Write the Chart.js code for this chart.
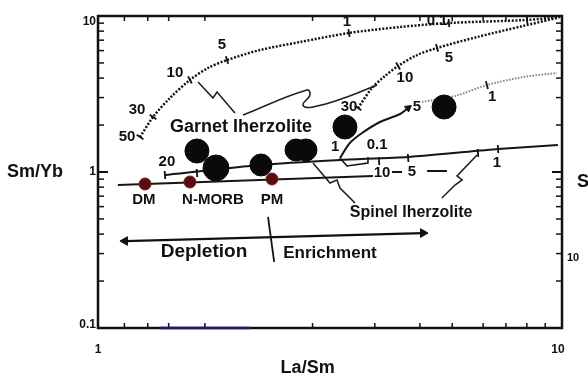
<!DOCTYPE html>
<html>
<head>
<meta charset="utf-8">
<script src="https://cdn.jsdelivr.net/npm/chart.js@4/dist/chart.umd.min.js"></script>
<style>
  html, body { margin: 0; padding: 0; background: #fff; }
</style>
</head>
<body>
<canvas id="chart" width="588" height="376"></canvas>
<script>
// La/Sm vs Sm/Yb, log-log. Pairs are [La/Sm, Sm/Yb].
const garnetMelt = [
  [1.232, 1.676], [1.314, 2.252], [1.429, 2.98], [1.578, 3.89], [1.726, 4.64],
  [1.897, 5.22], [2.234, 6.05], [2.725, 6.81], [3.475, 7.78], [4.477, 8.50],
  [5.705, 9.02], [8.41, 9.43], [9.90, 9.85]
];
const garnetMelt2 = [
  [3.634, 2.572], [3.895, 3.456], [4.155, 4.125], [4.433, 4.78], [4.87, 5.62],
  [5.38, 6.24], [6.56, 7.33], [8.24, 8.63], [9.75, 9.71]
];
const mixedMelt = [[4.99, 2.81], [5.88, 3.07], [6.89, 3.61], [8.24, 4.06], [9.75, 4.31]];
const mixCurve = [[3.323, 1.229], [3.49, 1.534], [3.707, 1.778], [4.053, 2.092], [4.477, 2.354], [4.66, 2.572]];
const spinelMelt = [[1.394, 0.957], [2.234, 1.109], [3.323, 1.194], [4.66, 1.248], [7.28, 1.404], [9.80, 1.49]];
const mantleArray = [[1.104, 0.825], [3.914, 0.943]];
const mantleDashA = [[4.30, 1.0], [4.52, 1.0]];
const mantleDashB = [[5.12, 1.015], [5.65, 1.015]];
const junctionBox = [[3.323, 1.229], [3.44, 1.093], [3.818, 1.142], [3.818, 1.248]];

// melt fraction ticks along the curves
const garnetTicks = [[1.232, 1.676], [1.314, 2.252], [1.578, 3.89], [1.897, 5.22], [3.475, 7.78], [5.705, 9.02], [8.41, 9.43]];
const garnet2Ticks = [[3.634, 2.572], [4.433, 4.78], [5.38, 6.24]];
const mixedTicks = [[6.89, 3.61]];
const spinelTicks = [[1.394, 0.957], [1.634, 0.985], [4.033, 1.176], [4.66, 1.229], [6.59, 1.324], [7.28, 1.404]];

// mantle reservoirs and samples
const reservoirNames = ['DM', 'N-MORB', 'PM'];
const reservoirs = [[1.263, 0.838], [1.578, 0.863], [2.371, 0.902]];
const reservoirLabelX = [1.256, 1.769, 2.371];
const samples = [[1.634, 1.363], [1.796, 1.061], [2.245, 1.109], [2.672, 1.384], [2.807, 1.384], [3.406, 1.943], [5.57, 2.61]];

// leader lines and the depletion / enrichment arrow
const garnetLeaderA = [[1.643, 3.776], [1.769, 2.98], [1.805, 3.257], [1.973, 2.39]];
const garnetLeaderB = [[2.054, 2.32], [2.82, 3.355], [2.863, 3.117], [2.765, 2.689], [2.906, 2.61], [3.44, 3.026], [3.994, 3.613]];
const spinelLeaderA = [[2.906, 1.142], [3.162, 0.85], [3.274, 0.889], [3.323, 0.79], [3.58, 0.633]];
const spinelLeaderB = [[6.56, 1.285], [5.94, 0.943], [6.09, 0.889], [5.88, 0.825], [5.51, 0.681]];
const trendArrow = [[1.143, 0.361], [5.017, 0.406]];
const divider = [[2.325, 0.515], [2.397, 0.265]];
const baseSegment = [[1.36, 0.1], [2.127, 0.1]];

// melt fraction labels
const curveLabels = [
  ['50', 1.155, 1.676], ['30', 1.214, 2.497], ['10', 1.465, 4.31], ['5', 1.85, 6.52], ['20', 1.408, 1.159],
  ['1', 3.44, 9.15], ['0.1', 5.38, 9.30], ['5', 5.705, 5.38], ['10', 4.587, 4.005], ['30', 3.475, 2.61],
  ['5', 4.87, 2.61], ['1', 7.07, 3.026], ['1', 3.244, 1.446], ['0.1', 3.994, 1.49], ['10', 4.094, 0.985],
  ['5', 4.75, 1.0], ['1', 7.24, 1.142]
];

// axes
const xTickValues = [1, 10];
const xTickLabels = ['1', '10'];
const yTickValues = [0.1, 1, 10];
const yTickLabels = ['0.1', '1', '10'];
const xMinorTicks = [1.14, 1.28, 1.42, 1.7, 2.9, 3.95, 4.94, 5.8, 6.76, 7.57, 8.4, 9.2];
const yMinorTicks = [0.2, 0.3, 0.4, 0.5, 0.6, 0.7, 0.8, 0.9, 2, 3, 4, 5, 6, 7, 8, 9];

const FONT = "'Liberation Sans', Arial, sans-serif";
const pts = arr => arr.map(([x, y]) => ({ x, y }));

function curve(data, color, width, dash, tension) {
  return {
    data: pts(data), showLine: true, borderColor: color, borderWidth: width,
    borderDash: dash || [], pointRadius: 0, tension: tension || 0, clip: false
  };
}

function tickMarks(data, rotation) {
  return {
    data: pts(data), showLine: false, pointStyle: 'line', pointRadius: 4,
    pointRotation: rotation, borderColor: '#111', borderWidth: 1.8, clip: false
  };
}

// frame and inward ticks go under the data, text goes on top
const frame = {
  id: 'frame',
  beforeDatasetsDraw(chart) {
    const { ctx, chartArea: a, scales: { x, y } } = chart;
    ctx.save();
    ctx.strokeStyle = '#111';
    ctx.lineWidth = 1.5;
    const seg = (x1, y1, x2, y2) => { ctx.beginPath(); ctx.moveTo(x1, y1); ctx.lineTo(x2, y2); ctx.stroke(); };
    xMinorTicks.forEach(v => {
      const px = x.getPixelForValue(v);
      seg(px, a.bottom, px, a.bottom - 5);
      seg(px, a.top, px, a.top + 5);
    });
    yMinorTicks.forEach(v => {
      const py = y.getPixelForValue(v);
      seg(a.left, py, a.left + 6, py);
      seg(a.right, py, a.right - 6, py);
    });
    ctx.lineWidth = 2;
    const one = y.getPixelForValue(1);
    seg(a.left, one, a.left + 10, one);
    seg(a.right, one, a.right - 10, one);

    ctx.lineWidth = 2.5;
    ctx.strokeRect(a.left, a.top, a.right - a.left, a.bottom - a.top);
    ctx.restore();
  },
  afterDraw(chart) {
    const { ctx, chartArea: a, scales: { x, y } } = chart;
    ctx.save();
    ctx.fillStyle = '#111';
    ctx.textBaseline = 'middle';

    // axis numbers
    ctx.font = 'bold 12px ' + FONT;
    ctx.textAlign = 'right';
    yTickValues.forEach((v, i) => {
      const py = Math.min(Math.max(y.getPixelForValue(v), a.top + 6), a.bottom - 3);
      ctx.fillText(yTickLabels[i], a.left - 2, py);
    });
    ctx.textAlign = 'center';
    xTickValues.forEach((v, i) => {
      ctx.fillText(xTickLabels[i], x.getPixelForValue(v) - (i ? 4 : 0), a.bottom + 22);
    });

    // axis titles
    ctx.font = 'bold 18px ' + FONT;
    ctx.fillText('Sm/Yb', 35, y.getPixelForValue(1));
    ctx.fillText('La/Sm', x.getPixelForValue(2.83), a.bottom + 40);

    // neighbouring panel edge
    ctx.textAlign = 'left';
    ctx.fillText('S', a.right + 15, y.getPixelForValue(0.863));
    ctx.font = 'bold 11px ' + FONT;
    ctx.fillText('10', a.right + 5, y.getPixelForValue(0.281));

    // curve labels
    ctx.textAlign = 'center';
    ctx.font = 'bold 15px ' + FONT;
    curveLabels.forEach(([t, vx, vy]) => ctx.fillText(t, x.getPixelForValue(vx), y.getPixelForValue(vy)));
    reservoirNames.forEach((t, i) => ctx.fillText(t, x.getPixelForValue(reservoirLabelX[i]), y.getPixelForValue(0.661)));

    const put = (t, vx, vy, font) => {
      ctx.font = font;
      ctx.fillText(t, x.getPixelForValue(vx), y.getPixelForValue(vy));
    };
    put('Garnet Iherzolite', 2.034, 1.943, 'bold 18px ' + FONT);
    put('Spinel Iherzolite', 4.73, 0.546, 'bold 16px ' + FONT);
    put('Depletion', 1.692, 0.307, 'bold 19px ' + FONT);
    put('Enrichment', 3.162, 0.3026, 'bold 17px ' + FONT);
    ctx.restore();
  }
};

new Chart(document.getElementById('chart'), {
  type: 'scatter',
  data: {
    datasets: [
      {
        data: pts(samples), pointRadius: [12, 13, 11, 11, 11, 12, 12],
        backgroundColor: '#0a0a0a', borderColor: '#0a0a0a', clip: false
      },
      {
        data: pts(reservoirs), pointRadius: 6,
        backgroundColor: '#5a0c10', borderColor: '#7a1a1e', borderWidth: 1, clip: false
      },
      {
        data: pts([trendArrow[0], trendArrow[1]]), pointStyle: 'triangle',
        pointRotation: [-90, 90], pointRadius: 5, backgroundColor: '#111', borderColor: '#111', clip: false
      },
      {
        data: pts([mixCurve[mixCurve.length - 1]]), pointStyle: 'triangle',
        pointRotation: 53, pointRadius: 4, backgroundColor: '#111', borderColor: '#111', clip: false
      },
      tickMarks(garnetTicks, [33, 33, 62, 73, 81, 85, 85]),
      tickMarks(garnet2Ticks, [35, 59, 75]),
      tickMarks(mixedTicks, [76]),
      tickMarks(spinelTicks, 86),
      curve(garnetMelt, '#151515', 2.5, [2, 1.6], 0.3),
      curve(garnetMelt2, '#151515', 2.5, [2, 1.6], 0.3),
      curve(mixedMelt, '#8a8a8a', 2, [1.6, 1.4], 0.3),
      curve(mixCurve, '#151515', 2, null, 0.3),
      curve(spinelMelt, '#151515', 2, null, 0.2),
      curve(mantleArray, '#151515', 2),
      curve(mantleDashA, '#151515', 2),
      curve(mantleDashB, '#151515', 2),
      curve(junctionBox, '#151515', 1.6),
      curve(garnetLeaderA, '#222', 1.6),
      curve(garnetLeaderB, '#222', 1.6, null, 0.45),
      curve(spinelLeaderA, '#222', 1.6),
      curve(spinelLeaderB, '#222', 1.6),
      curve(trendArrow, '#111', 2.2),
      curve(divider, '#111', 1.8),
      curve(baseSegment, '#1c1c6c', 2.5)
    ]
  },
  options: {
    responsive: false,
    animation: false,
    layout: { padding: { left: 98, right: 26, top: 16, bottom: 48 } },
    plugins: { legend: { display: false }, tooltip: { enabled: false } },
    scales: {
      x: { type: 'logarithmic', min: 1, max: 10, display: false },
      y: { type: 'logarithmic', min: 0.1, max: 10, display: false }
    }
  },
  plugins: [frame]
});
</script>
</body>
</html>
